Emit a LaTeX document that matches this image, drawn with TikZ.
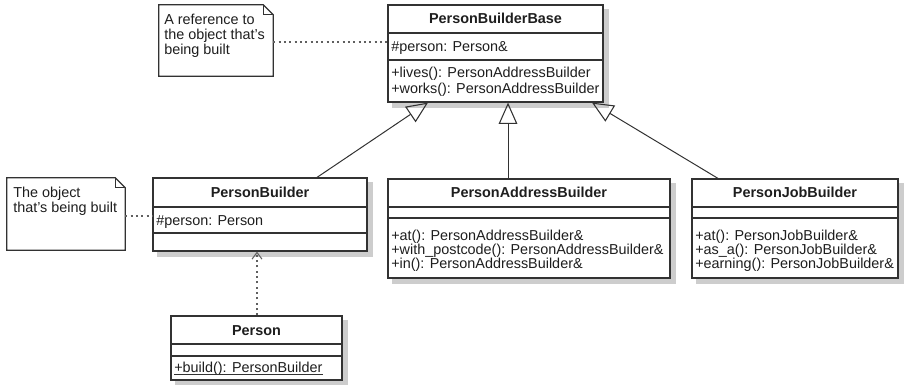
\documentclass[tikz,border=0pt]{standalone}
\usepackage{fontspec}
\setmainfont{Liberation Sans}
\usetikzlibrary{arrows.meta,fit}
\definecolor{shadowgray}{RGB}{205,205,205}
\definecolor{ink}{RGB}{30,30,30}
\definecolor{lineink}{RGB}{50,50,50}
\definecolor{dotink}{RGB}{95,95,95}
\begin{document}
\begin{tikzpicture}[x=0.75pt,y=-0.75pt,
  every node/.style={font=\fontsize{10.8}{13}\selectfont, text=ink},
  umlbox/.style={draw=lineink, line width=0.9pt, fill=white, inner sep=0pt},
  shadowfill/.style={fill=shadowgray},
  notebox/.style={inner sep=0pt},
  sepline/.style={draw=lineink, line width=0.9pt},
  txt/.style={anchor=base west, inner sep=0pt},
  ttl/.style={anchor=base, inner sep=0pt, font=\fontsize{10.8}{13}\selectfont\bfseries},
  notedash/.style={draw=dotink, line width=0.9pt, dash pattern=on 1.5pt off 2.5pt},
  inherit/.style={draw=lineink, line width=0.75pt, -{Triangle[open, length=16pt, width=14pt, line width=0.8pt]}},
  depend/.style={draw=dotink, line width=0.9pt, dash pattern=on 1.5pt off 2.5pt, -{Straight Barb[length=5pt, width=7.5pt, line width=0.8pt]}}
]
\useasboundingbox (0,0) rectangle (915,385);

% ---------------- shadows (drawn first, under the boxes) ----------------
\path[shadowfill] (392,9) rectangle (609,108);
\path[shadowfill] (157,182) rectangle (373,257);
\path[shadowfill] (392,183) rectangle (676,284);
\path[shadowfill] (696,183) rectangle (904,284);
\path[shadowfill] (175,320) rectangle (348,385);

% ---------------- notes ----------------
\node[notebox, fit={(159,5) (273,76)}] (noteA) {};
\draw[draw=lineink, line width=1pt, fill=white]
  (noteA.north west) -- ([xshift=-7.5pt]noteA.north east) -- ([yshift=-7.5pt]noteA.north east)
  -- (noteA.south east) -- (noteA.south west) -- cycle;
\draw[draw=lineink, line width=0.9pt]
  ([xshift=-7.5pt]noteA.north east) -- ([xshift=-7.5pt,yshift=-7.5pt]noteA.north east) -- ([yshift=-7.5pt]noteA.north east);
\node[txt] (nA1) at (164,25) {A reference to};
\node[txt] (nA2) at (164,40) {the object that's};
\node[txt] (nA3) at (164,55) {being built};

\node[notebox, fit={(7,178) (125,250)}] (noteB) {};
\draw[draw=lineink, line width=1pt, fill=white]
  (noteB.north west) -- ([xshift=-7.5pt]noteB.north east) -- ([yshift=-7.5pt]noteB.north east)
  -- (noteB.south east) -- (noteB.south west) -- cycle;
\draw[draw=lineink, line width=0.9pt]
  ([xshift=-7.5pt]noteB.north east) -- ([xshift=-7.5pt,yshift=-7.5pt]noteB.north east) -- ([yshift=-7.5pt]noteB.north east);
\node[txt] (nB1) at (13,198) {The object};
\node[txt] (nB2) at (13,213) {that's being built};

% ---------------- PersonBuilderBase ----------------
\node[umlbox, fit={(388,5) (603,102)}] (pbb) {};
\draw[sepline] (pbb.west |- 0,33) -- (pbb.east |- 0,33);
\draw[sepline] (pbb.west |- 0,60) -- (pbb.east |- 0,60);
\node[ttl] (pbbT) at (495.5,24) {PersonBuilderBase};
\node[txt] (pbbA) at (391,52) {\#person: Person\&};
\node[txt] (pbbM1) at (391,78) {+lives(): PersonAddressBuilder};
\node[txt] (pbbM2) at (391,94) {+works(): PersonAddressBuilder};

% ---------------- PersonBuilder ----------------
\node[umlbox, fit={(153,178) (367,251)}] (pb) {};
\draw[sepline] (pb.west |- 0,207) -- (pb.east |- 0,207);
\draw[sepline] (pb.west |- 0,233) -- (pb.east |- 0,233);
\node[ttl] (pbT) at (260,198) {PersonBuilder};
\node[txt] (pbA) at (156,225) {\#person: Person};

% ---------------- PersonAddressBuilder ----------------
\node[umlbox, fit={(388,179) (670,278)}] (pab) {};
\draw[sepline] (pab.west |- 0,207) -- (pab.east |- 0,207);
\draw[sepline] (pab.west |- 0,218) -- (pab.east |- 0,218);
\node[ttl] (pabT) at (529,197) {PersonAddressBuilder};
\node[txt] (pabM1) at (391,240) {+at(): PersonAddressBuilder\&};
\node[txt] (pabM2) at (391,254) {+with\_postcode(): PersonAddressBuilder\&};
\node[txt] (pabM3) at (391,268) {+in(): PersonAddressBuilder\&};

% ---------------- PersonJobBuilder ----------------
\node[umlbox, fit={(692,179) (898,278)}] (pjb) {};
\draw[sepline] (pjb.west |- 0,207) -- (pjb.east |- 0,207);
\draw[sepline] (pjb.west |- 0,218) -- (pjb.east |- 0,218);
\node[ttl] (pjbT) at (795,197) {PersonJobBuilder};
\node[txt] (pjbM1) at (695,240) {+at(): PersonJobBuilder\&};
\node[txt] (pjbM2) at (695,254) {+as\_a(): PersonJobBuilder\&};
\node[txt] (pjbM3) at (695,268) {+earning(): PersonJobBuilder\&};

% ---------------- Person ----------------
\node[umlbox, fit={(171,316) (342,380)}] (per) {};
\draw[sepline] (per.west |- 0,344) -- (per.east |- 0,344);
\draw[sepline] (per.west |- 0,356) -- (per.east |- 0,356);
\node[ttl] (perT) at (256.5,335) {Person};
\node[txt] (perM) at (174,372) {+build(): PersonBuilder};
\draw[draw=lineink, line width=0.7pt] ([yshift=-1.5pt]perM.base west) -- ([yshift=-1.5pt]perM.base east);

% ---------------- connectors ----------------
\draw[notedash] (noteA.east |- 0,42) -- (pbb.west |- 0,42);
\draw[notedash] (noteB.east |- 0,216) -- (pb.west |- 0,216);

\draw[inherit] (pb.north -| 317,0) -- (pbb.south -| 428,0);
\draw[inherit] (pab.north -| 508,0) -- (pbb.south -| 508,0);
\draw[inherit] (pjb.north -| 718,0) -- (pbb.south -| 592,0);

\draw[depend] (per.north -| 257,0) -- (pb.south -| 257,0);
\end{tikzpicture}
\end{document}
